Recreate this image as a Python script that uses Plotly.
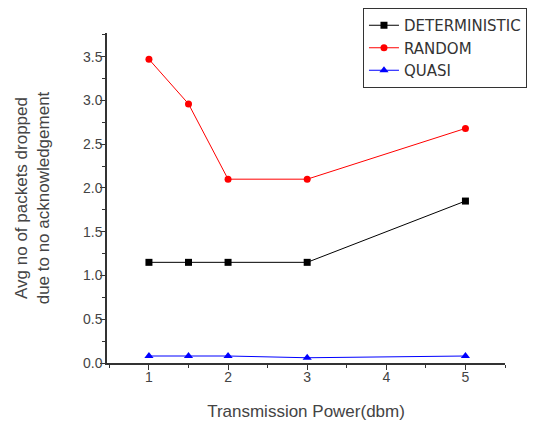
import plotly.graph_objects as go

x_power = [1, 1.5, 2, 3, 5]
deterministic = [1.15, 1.15, 1.15, 1.15, 1.85]
random_vals = [3.47, 2.96, 2.1, 2.1, 2.68]
quasi = [0.08, 0.08, 0.08, 0.06, 0.08]

fig = go.Figure()
fig.add_trace(go.Scatter(x=x_power, y=deterministic, name="DETERMINISTIC", mode="lines+markers",
                         line=dict(color="black", width=1),
                         marker=dict(symbol="square", size=7, color="black")))
fig.add_trace(go.Scatter(x=x_power, y=random_vals, name="RANDOM", mode="lines+markers",
                         line=dict(color="red", width=1),
                         marker=dict(symbol="circle", size=7, color="red")))
fig.add_trace(go.Scatter(x=x_power, y=quasi, name="QUASI", mode="lines+markers",
                         line=dict(color="blue", width=1),
                         marker=dict(symbol="triangle-up", size=8, color="blue")))

fam = "Liberation Sans, Arial, sans-serif"
tick_font = dict(family=fam, size=14, color="#444444")
title_font = dict(family=fam, size=17, color="#444444")
fig.update_layout(
    template="none",
    width=533, height=413,
    margin=dict(l=99, r=36, t=25, b=58, autoexpand=False),
    paper_bgcolor="white", plot_bgcolor="white",
    font=tick_font,
    showlegend=True,
    legend=dict(xref="container", yref="container", x=0.666, y=1.0, xanchor="left", yanchor="top",
                bordercolor="#333333", borderwidth=1, bgcolor="white",
                font=dict(family="DejaVu Sans, sans-serif", size=15, color="#333333"),
                tracegroupgap=0, itemwidth=30),
    xaxis=dict(range=[0.47, 5.5], tickvals=[1, 2, 3, 4, 5], showgrid=False, zeroline=False,
               automargin=False,
               showline=True, linecolor="#333333", linewidth=1.5,
               ticks="outside", ticklen=5, tickcolor="#333333", ticklabelstandoff=-5,
               minor=dict(dtick=0.5, tick0=0, ticks="outside", ticklen=3, tickcolor="#333333", showgrid=False),
               title=dict(text="Transmission Power(dbm)", standoff=22, font=title_font),
               tickfont=tick_font),
    yaxis=dict(range=[0, 3.77], tickvals=[0, 0.5, 1, 1.5, 2, 2.5, 3, 3.5],
               ticktext=["0.0", "0.5", "1.0", "1.5", "2.0", "2.5", "3.0", "3.5"],
               showgrid=False, zeroline=False, automargin=False,
               showline=True, linecolor="#333333", linewidth=1.5,
               ticks="outside", ticklen=5, tickcolor="#333333", ticklabelstandoff=-5,
               minor=dict(dtick=0.25, tick0=0, ticks="outside", ticklen=3, tickcolor="#333333", showgrid=False),
               title=dict(text="Avg no of packets dropped<br>due to no acknowledgement", standoff=29, font=title_font),
               tickfont=tick_font),
)
fig.write_html("out.html")
